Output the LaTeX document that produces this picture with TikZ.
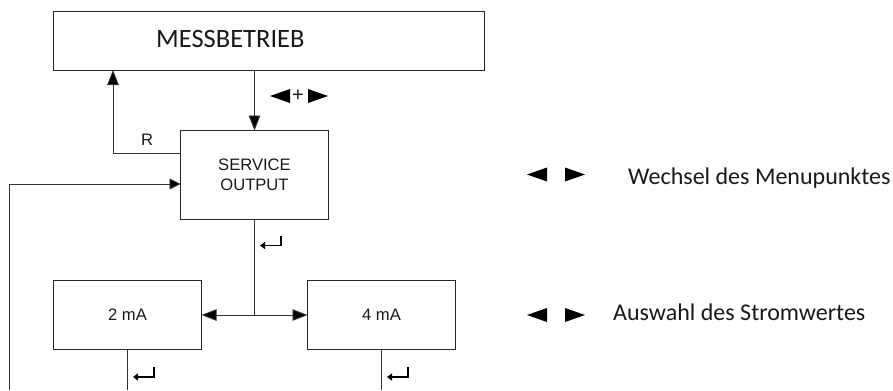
\documentclass[tikz,border=0pt]{standalone}
\usepackage{fontspec}
\setmainfont{Carlito}
\newfontfamily\arialf{Liberation Sans}
\usetikzlibrary{arrows.meta,calc}
\tikzset{
  x=1bp,y=-1bp,
  box/.style={draw=black!85,line width=0.9bp,inner sep=0pt,outer sep=0pt,minimum height=#1},
  box/.default=60bp,
  conn/.style={draw=black!80,line width=0.9bp},
  tipv/.style={-{Triangle[length=15bp,width=11.5bp,fill=black]}},
  tipd/.style={{Triangle[length=15bp,width=11.5bp,fill=black]}-{Triangle[length=15bp,width=11.5bp,fill=black]}},
  tips/.style={-{Triangle[length=11bp,width=11bp,fill=black]}},
  ret/.style={draw=black,line width=1.3bp,-{Triangle[length=5bp,width=7bp,fill=black]}},
  arial/.style={font=\arialf\fontsize{16.6bp}{19.8bp}\selectfont,text=black!90,inner sep=0pt},
  cal/.style={font=\fontsize{24bp}{28bp}\selectfont,text=black!90,inner sep=0pt,anchor=base west},
  lbl/.style={font=\fontsize{26.5bp}{30bp}\selectfont,text=black!90,inner sep=0pt,anchor=base west}
}
\newcommand{\lefttri}[2]{\fill[black] (#1,#2) -- ++(20,-7) -- ++(0,14) -- cycle;}
\newcommand{\righttri}[2]{\fill[black] (#1,#2) -- ++(-20,-7) -- ++(0,14) -- cycle;}
\newcommand{\retsym}[2]{\draw[ret] (#1,#2) -- ++(0,10) -- ++(-21,0);}
\begin{document}
\begin{tikzpicture}
\useasboundingbox (0,0) rectangle (893,390);
\node[box=59bp,minimum width=431bp] (mess) at (268.75,40.5) {};
\node[box=89bp,minimum width=148bp,arial,align=center] (serv) at (254.5,175) {SERVICE\\OUTPUT};
\node[box=68.5bp,minimum width=148bp,arial] (a2) at (127.5,315) {2 mA};
\node[box=68.5bp,minimum width=148bp,arial] (a4) at (381.5,315) {4 mA};
\node[lbl] (title) at (156,47) {MESSBETRIEB};
\node[arial] (r) at (147,140) {R};
\node[arial,font=\arialf\fontsize{20bp}{22bp}\selectfont,anchor=center] (plus) at (298,95.5) {+};
\node[cal] (t1) at (628,184) {Wechsel des Menupunktes};
\node[cal] (t2) at (613,320) {Auswahl des Stromwertes};
\coordinate (rcorner) at (113,153.5);
\coordinate (rstart) at (serv.west |- rcorner);
\coordinate (lbottom) at (9.5,390);
\coordinate (lcorner) at (9.5,184);
\coordinate (junction) at (serv.south |- a2.east);
\coordinate (b2) at (a2.south |- lbottom);
\coordinate (b4) at (a4.south |- lbottom);
\draw[conn,tipv] (serv.north |- mess.south) -- (serv.north);
\draw[conn,tipv] (rstart) -- (rcorner) -- (rcorner |- mess.south);
\draw[conn,tips] (lbottom) -- (lcorner) -- (lcorner -| serv.west);
\draw[conn] (serv.south) -- (junction);
\draw[conn,tipd] (a2.east) -- (a4.west);
\draw[conn] (a2.south) -- (b2);
\draw[conn] (a4.south) -- (b4);
\lefttri{270}{96}\righttri{328}{96}
\lefttri{527}{174.5}\righttri{585}{174.5}
\lefttri{527}{315}\righttri{585}{315}
\retsym{281}{235.5}
\retsym{154}{367}
\retsym{408}{367}
\end{tikzpicture}
\end{document}
